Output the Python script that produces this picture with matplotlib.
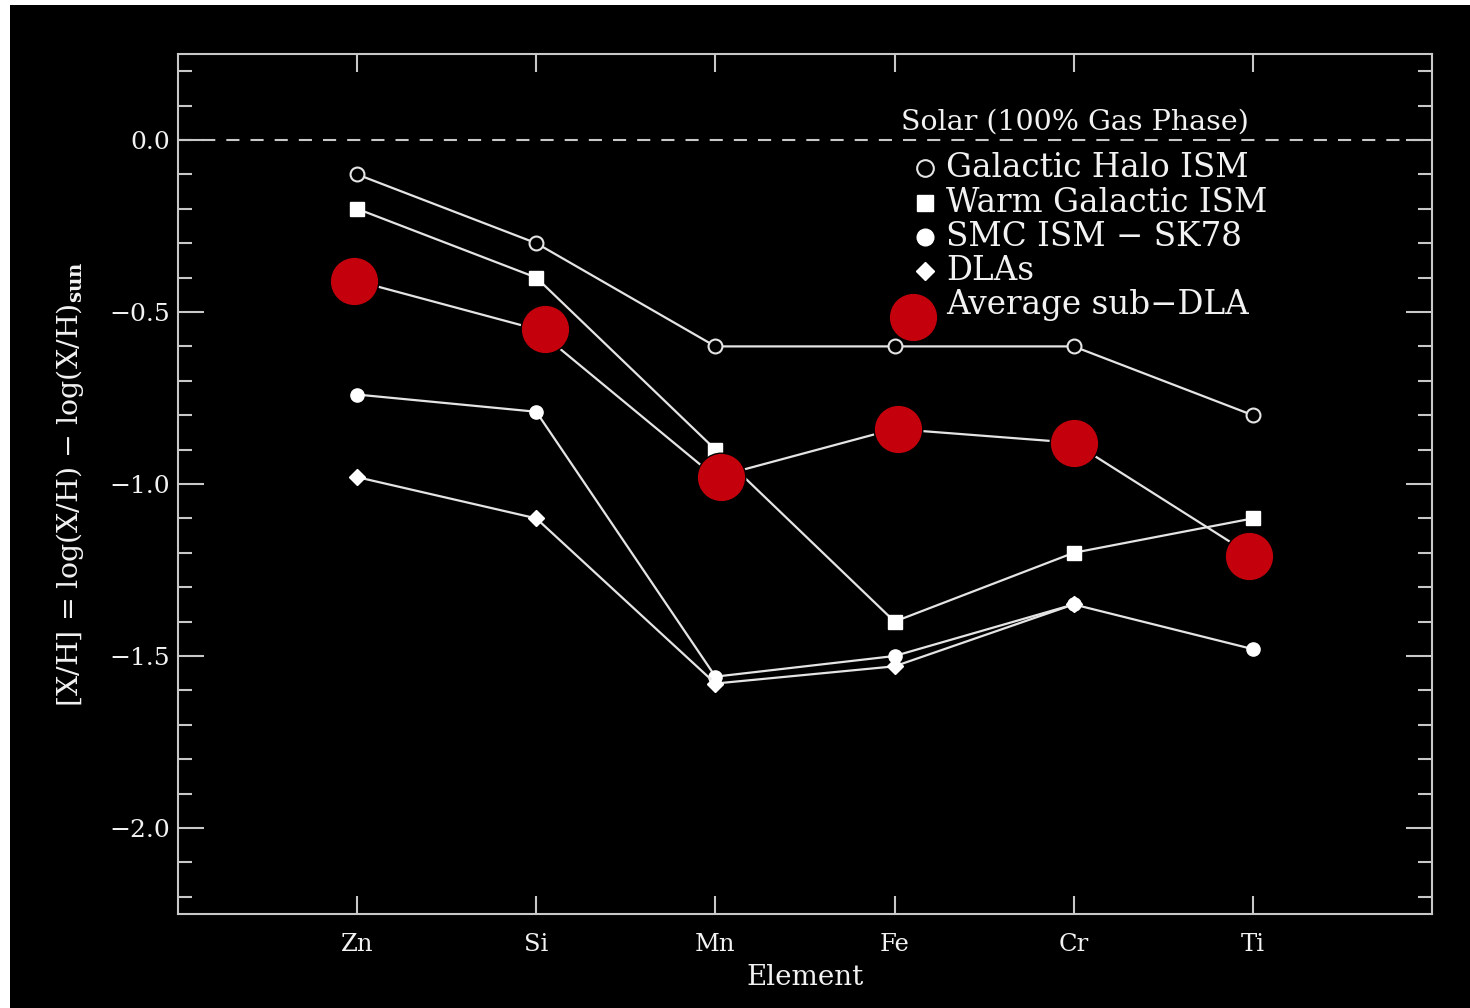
import matplotlib
matplotlib.use("Agg")
import matplotlib.pyplot as plt
from matplotlib.patches import Rectangle

# Elements along the x axis
elements = ["Zn", "Si", "Mn", "Fe", "Cr", "Ti"]
positions = [1, 2, 3, 4, 5, 6]

# Depletion patterns [X/H]
halo_ism = [-0.10, -0.30, -0.60, -0.60, -0.60, -0.80]
warm_ism = [-0.20, -0.40, -0.90, -1.40, -1.20, -1.10]
smc_ism = [-0.74, -0.79, -1.56, -1.50, -1.35, -1.48]
dla_elements = ["Zn", "Si", "Mn", "Fe", "Cr"]
dla_values = [-0.98, -1.10, -1.58, -1.53, -1.35]
subdla_values = [-0.41, -0.55, -0.98, -0.84, -0.88, -1.21]
# sub-DLA averages are marked slightly off the element grid
subdla_x = [0.98, 2.05, 3.03, 4.02, 5.00, 5.98]

y_ticks = [0.0, -0.5, -1.0, -1.5, -2.0]

plt.rcParams["font.family"] = ["DejaVu Serif"]
plt.rcParams["mathtext.fontset"] = "dejavuserif"

AX_COL = "#c8c8c8"
LINE_COL = "#e4e4e4"
TXT_COL = "#f2f2f2"
RED = "#c3000b"

fig = plt.figure(figsize=(14.7, 10.08), dpi=100)
fig.patch.set_facecolor("white")
# dark canvas with a thin light strip along the top and left edges
fig.add_artist(Rectangle((10 / 1470, 0), 1, 1 - 5 / 1008, transform=fig.transFigure,
                         facecolor="black", edgecolor="none", zorder=-10))

ax = fig.add_axes([178 / 1470, 1 - 914 / 1008, 1254 / 1470, 860 / 1008])
ax.set_facecolor("black")

x_of = {e: p for e, p in zip(elements, positions)}
dla_x = [x_of[e] for e in dla_elements]

lw = 1.6
ax.plot(positions, halo_ism, color=LINE_COL, lw=lw, marker="o", ms=10,
        mfc="black", mec=LINE_COL, mew=1.5, zorder=3)
ax.plot(positions, warm_ism, color=LINE_COL, lw=lw, marker="s", ms=10,
        mfc="white", mec="white", zorder=3)
ax.plot(positions, smc_ism, color=LINE_COL, lw=lw, marker="o", ms=9.5,
        mfc="white", mec="white", zorder=3)
ax.plot(dla_x, dla_values, color=LINE_COL, lw=lw, marker="D", ms=8,
        mfc="white", mec="white", zorder=3)
ax.plot(positions, subdla_values, color=LINE_COL, lw=lw, zorder=3)
ax.plot(subdla_x, subdla_values, ls="none", marker="o", ms=35,
        mfc=RED, mec="black", mew=1.0, zorder=5)

# solar reference (no depletion)
ax.axhline(0.0, color=AX_COL, lw=1.5, dashes=(6.3, 5.3), zorder=2)

ax.set_xlim(0, 7)
ax.set_ylim(-2.25, 0.25)
ax.set_xticks(positions)
ax.set_xticklabels(elements)
ax.set_yticks(y_ticks)
ax.set_yticks([v / 10 for v in range(-22, 3)], minor=True)
ax.set_yticklabels([f"{v:.1f}".replace("-", "\u2212") for v in y_ticks])

for s in ax.spines.values():
    s.set_color(AX_COL)
    s.set_linewidth(1.5)

ax.tick_params(which="both", direction="in", top=True, right=True,
               color=AX_COL, width=1.5, labelcolor=TXT_COL)
ax.tick_params(axis="y", which="major", length=18.7, pad=6, labelsize=18)
ax.tick_params(axis="y", which="minor", length=10)
ax.tick_params(axis="x", which="major", length=13, pad=14, labelsize=17.5)
ax.tick_params(axis="x", which="minor", bottom=False, top=False)

ax.set_xlabel("Element", fontsize=20, color=TXT_COL)
ax.xaxis.set_label_coords(0.5, -0.058)
ax.set_ylabel(r"[X/H] = log(X/H) $-$ log(X/H)$_{\mathbf{sun}}$", fontsize=20.5,
              color=TXT_COL)
ax.yaxis.set_label_coords(-0.073, 0.5)

# legend drawn as text rows with marker glyphs
ax.text(0.7153, 0.9209, "Solar (100% Gas Phase)", transform=ax.transAxes,
        ha="center", va="center", fontsize=20.5, color=TXT_COL)

legend_rows = [
    ("Galactic Halo ISM", dict(marker="o", ms=12, mfc="black", mec=LINE_COL, mew=1.5)),
    ("Warm Galactic ISM", dict(marker="s", ms=12, mfc="white", mec="white")),
    ("SMC ISM \u2212 SK78", dict(marker="o", ms=12, mfc="white", mec="white")),
    ("DLAs", dict(marker="D", ms=9, mfc="white", mec="white")),
]
row_y = [0.8674, 0.8267, 0.7872, 0.7477]
for (label, mk), yy in zip(legend_rows, row_y):
    ax.plot([0.5957], [yy], transform=ax.transAxes, ls="none", clip_on=False, **mk)
    ax.text(0.6124, yy, label, transform=ax.transAxes, ha="left", va="center",
            fontsize=23.5, color=TXT_COL)
ax.plot([0.5861], [0.6942], transform=ax.transAxes, ls="none", marker="o", ms=35,
        mfc=RED, mec="black", mew=1.0, clip_on=False, zorder=5)
ax.text(0.6124, 0.7081, "Average sub\u2212DLA", transform=ax.transAxes, ha="left",
        va="center", fontsize=23.5, color=TXT_COL)

fig.savefig("out.png", dpi=100, facecolor=fig.get_facecolor())
